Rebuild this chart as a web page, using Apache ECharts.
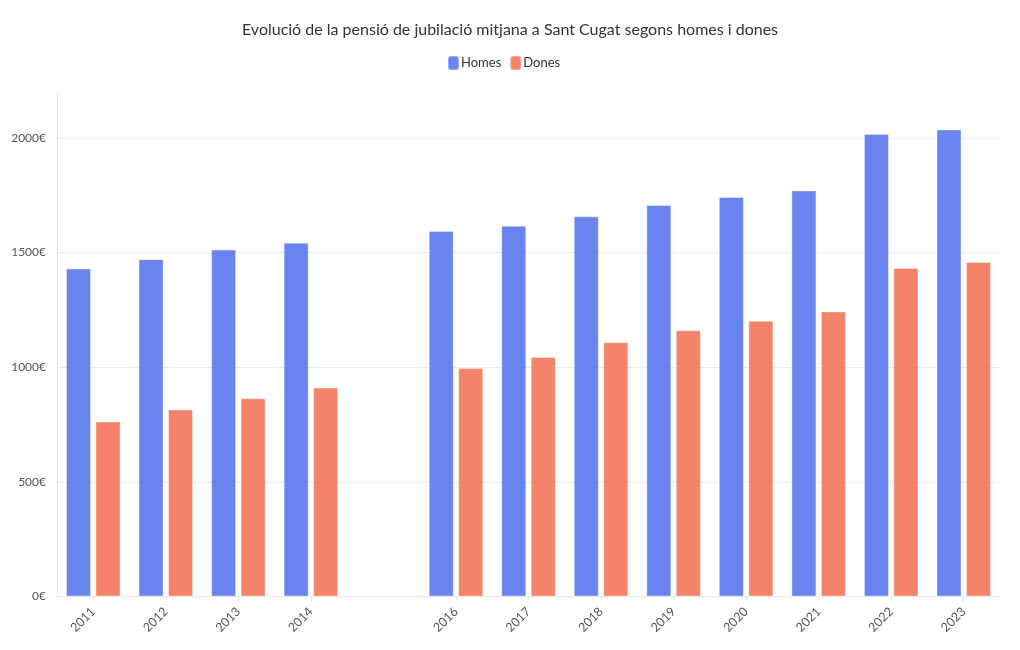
<!DOCTYPE html>
<html>
<head>
<meta charset="utf-8">
<script src="https://cdn.jsdelivr.net/npm/echarts@6/dist/echarts.min.js"></script>
<style>html,body{margin:0;padding:0;background:#fff}#c{width:1020px;height:650px}</style>
</head>
<body>
<div id="c"></div>
<script>
const years = ['2011','2012','2013','2014','2015','2016','2017','2018','2019','2020','2021','2022','2023'];
const homes = [1430, 1471, 1513, 1543, null, 1594, 1617, 1658, 1707, 1742, 1771, 2017, 2037];
const dones = [763, 816, 864, 911, null, 996, 1044, 1109, 1161, 1202, 1243, 1433, 1459];
const yTicks = [0, 500, 1000, 1500, 2000];

const FONT = 'Lato';
const hasData = i => homes[i] != null || dones[i] != null;

const chart = echarts.init(document.getElementById('c'));
chart.setOption({
  animation: false,
  textStyle: { fontFamily: FONT },
  title: {
    text: 'Evolució de la pensió de jubilació mitjana a Sant Cugat segons homes i dones',
    left: 'center', top: 17,
    textStyle: { fontFamily: FONT, fontSize: 16, fontWeight: 'normal', color: '#333' }
  },
  legend: {
    top: 50, left: 442,
    icon: 'roundRect', itemWidth: 11, itemHeight: 14, itemGap: 8,
    textStyle: { fontFamily: FONT, fontSize: 13, color: '#333', padding: [0, 0, 0, -3] },
    data: ['Homes', 'Dones']
  },
  grid: { left: 57, right: 20, top: 92, bottom: 53.5, containLabel: false },
  xAxis: {
    type: 'category',
    data: years,
    axisLine: { show: true, lineStyle: { color: '#e6e6e6' } },
    axisTick: { show: true, alignWithLabel: true, length: 5, lineStyle: { color: '#e6e6e6' },
      interval: (i) => hasData(i) },
    axisLabel: {
      rotate: 45, fontSize: 12.5, color: '#555', fontFamily: FONT, margin: 13,
      interval: (i) => hasData(i)
    }
  },
  yAxis: {
    type: 'value',
    min: 0, max: 2200, interval: 500,
    axisLine: { show: true, lineStyle: { color: '#e6e6e6' } },
    axisTick: { show: false },
    axisLabel: {
      fontSize: 12, color: '#555', fontFamily: FONT, margin: 11,
      formatter: v => yTicks.includes(v) ? v + '€' : ''
    },
    splitLine: { show: true, lineStyle: { color: ['#ececec','#ececec','#ececec','#ececec','#ececec','rgba(0,0,0,0)'], width: 1 } }
  },
  series: [
    {
      name: 'Homes', type: 'bar', data: homes,
      barWidth: 25, barGap: '18%',
      itemStyle: { color: 'rgba(77,108,236,0.84)', borderColor: 'rgba(255,255,255,0.35)', borderWidth: 1 }
    },
    {
      name: 'Dones', type: 'bar', data: dones,
      barWidth: 25,
      itemStyle: { color: 'rgba(242,107,78,0.84)', borderColor: 'rgba(255,255,255,0.35)', borderWidth: 1 }
    }
  ]
});
</script>
</body>
</html>
